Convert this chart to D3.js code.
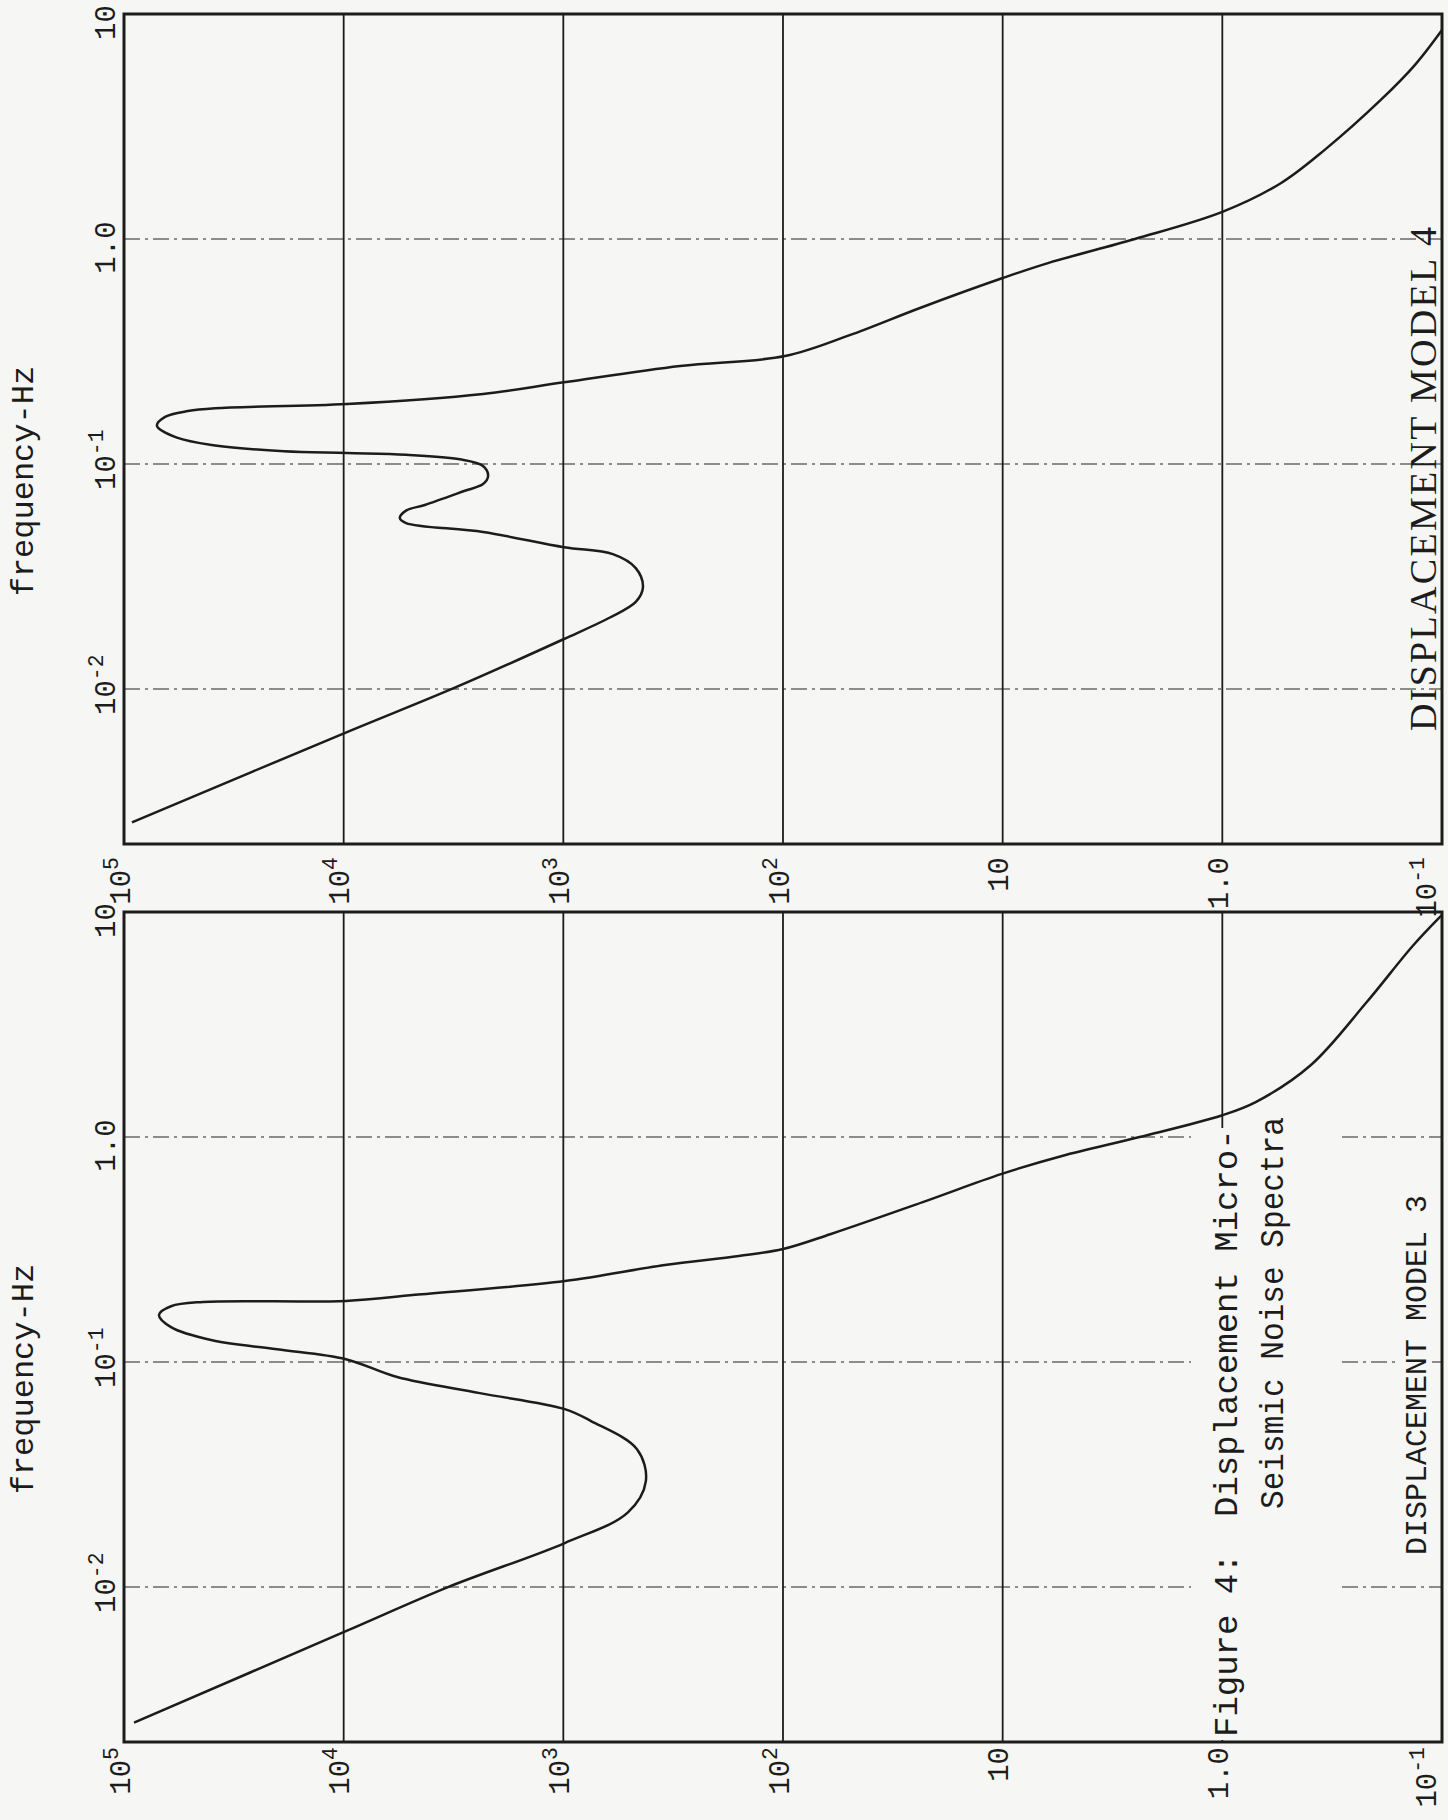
<!DOCTYPE html>
<html>
<head>
  <meta charset="utf-8">
  <title>Displacement Micro-Seismic Noise Spectra</title>
  <style>
    body { margin: 0; background: #f6f6f4; }
    svg { display: block; }
  </style>
</head>
<body>
  <svg id="chart"></svg>

  <script src="https://d3js.org/d3.v7.min.js"></script>
  <script>
    // Displacement model 4 (upper panel): frequency in Hz, displacement amplitude
    const freq4 = [0.00256, 0.00644, 0.0102, 0.0167, 0.0207, 0.0244, 0.0284, 0.0345, 0.0398, 0.0427,
                   0.0499, 0.0547, 0.0575, 0.0621, 0.0658, 0.0759, 0.0815, 0.0885, 0.098, 0.105,
                   0.110, 0.112, 0.114, 0.121, 0.131, 0.148, 0.162, 0.172, 0.177, 0.185,
                   0.205, 0.231, 0.273, 0.302, 0.374, 0.494, 0.671, 0.782, 1.0, 1.32,
                   1.77, 2.49, 4.15, 5.93, 8.49];
    const disp4 = [92000, 9660, 3080, 993, 620, 468, 434, 468, 595, 993,
                   2320, 5200, 5550, 5200, 4270, 2830, 2320, 2200, 2320, 2960,
                   5200, 9660, 18700, 38500, 57400, 70800, 65000, 51200, 38500, 9660,
                   2320, 993, 294, 98, 49.7, 23.8, 10, 6.22, 2.5, 1.0,
                   0.542, 0.342, 0.19, 0.133, 0.1];

    // Displacement model 3 (lower panel)
    const freq3 = [0.0025, 0.00637, 0.01, 0.0157, 0.0215, 0.0296, 0.041, 0.0547, 0.0618, 0.0728,
                   0.0858, 0.103, 0.114, 0.125, 0.143, 0.162, 0.177, 0.185, 0.187, 0.199,
                   0.229, 0.27, 0.296, 0.318, 0.371, 0.514, 0.686, 0.824, 1.0, 1.25,
                   1.43, 2.09, 3.98, 7.06, 9.7];
    const disp3 = [90000, 9770, 3350, 985, 508, 421, 462, 748, 985, 2400,
                   5710, 9770, 20100, 39700, 61100, 69300, 61100, 43700, 9770, 4730,
                   985, 345, 159, 100, 60.5, 23.1, 10.1, 5.37, 2.38, 1.0,
                   0.705, 0.395, 0.22, 0.136, 0.1];

    // ticks and their labels ([base, exponent])
    const freqTicks = [10, 1, 0.1, 0.01];
    const freqLabels = [["10", ""], ["1.0", ""], ["10", "-1"], ["10", "-2"]];
    const dispTicks = [1e5, 1e4, 1e3, 1e2, 10, 1, 0.1];
    const dispLabels = [["10", "5"], ["10", "4"], ["10", "3"], ["10", "2"], ["10", ""], ["1.0", ""], ["10", "-1"]];

    const paper = "#f6f6f4";
    const ink = "#1c1c1c";
    const mono = "'Liberation Mono', 'DejaVu Sans Mono', monospace";
    const serif = "'Liberation Serif', 'DejaVu Serif', serif";
    const fs = 29;

    // the page is printed sideways: each panel is drawn upright, then turned -90deg
    // W = frequency extent (page vertical), H = displacement extent (page horizontal)
    const W = 830, H = 1318;
    const fMin = 0.00205;

    const xF = d3.scaleLog().domain([fMin, 10]).range([0, W]);
    const yD = d3.scaleLog().domain([1e5, 0.1]).range([0, H]);

    const svg = d3.select("#chart")
      .attr("width", 1448)
      .attr("height", 1820);

    svg.append("rect")
      .attr("width", 1448)
      .attr("height", 1820)
      .attr("fill", paper);

    function label(sel, ticks, labels) {
      sel.each(function(d) {
        const [base, exp] = labels[ticks.indexOf(d)];
        const t = d3.select(this).text(null);
        t.append("tspan").text(base);
        if (exp) {
          t.append("tspan")
            .attr("dy", -fs * 0.42)
            .attr("font-size", fs * 0.74)
            .text(exp);
        }
      });
    }

    function drawPanel(left, bottom, freq, disp, dispPad, masks) {
      const g = svg.append("g")
        .attr("transform", `translate(${left},${bottom}) rotate(-90)`);

      // frequency grid (dashed)
      g.selectAll(".fgrid")
        .data(freqTicks.filter(f => f < 10))
        .enter().append("line")
        .attr("x1", d => xF(d)).attr("x2", d => xF(d))
        .attr("y1", 0).attr("y2", H)
        .attr("stroke", "#8c8c8c")
        .attr("stroke-width", 2)
        .attr("stroke-dasharray", "16 5 3 5");

      // displacement grid (solid)
      g.selectAll(".dgrid")
        .data(dispTicks.slice(1, -1))
        .enter().append("line")
        .attr("x1", 0).attr("x2", W)
        .attr("y1", d => yD(d)).attr("y2", d => yD(d))
        .attr("stroke", ink)
        .attr("stroke-width", 1.8);

      // blank areas where the typed text sits over the grid
      masks.forEach(m => {
        g.append("rect")
          .attr("x", m[0]).attr("y", m[1])
          .attr("width", m[2]).attr("height", m[3])
          .attr("fill", paper);
      });

      g.append("rect")
        .attr("width", W)
        .attr("height", H)
        .attr("fill", "none")
        .attr("stroke", ink)
        .attr("stroke-width", 3);

      const line = d3.line()
        .x(d => xF(d[0]))
        .y(d => yD(d[1]))
        .curve(d3.curveCatmullRom.alpha(0.5));

      g.append("path")
        .datum(d3.zip(freq, disp))
        .attr("d", line)
        .attr("fill", "none")
        .attr("stroke", ink)
        .attr("stroke-width", 2.5)
        .attr("stroke-linejoin", "round");

      // frequency labels (left of the page)
      const fAxis = g.append("g")
        .call(d3.axisTop(xF).tickValues(freqTicks).tickSize(0).tickPadding(9));
      fAxis.select(".domain").remove();
      fAxis.attr("font-family", mono).attr("font-size", fs);
      const fText = fAxis.selectAll(".tick text")
        .attr("fill", ink)
        .attr("text-anchor", "start")
        .attr("x", d => -freqLabels[freqTicks.indexOf(d)][0].length * 0.3 * fs - 9);
      label(fText, freqTicks, freqLabels);

      // displacement labels (below the panel)
      const dAxis = g.append("g")
        .call(d3.axisLeft(yD).tickValues(dispTicks).tickSize(0).tickPadding(dispPad));
      dAxis.select(".domain").remove();
      dAxis.attr("font-family", mono).attr("font-size", fs);
      const dText = dAxis.selectAll(".tick text")
        .attr("fill", ink)
        .attr("y", d => d === 0.1 ? -16 : -4);
      label(dText, dispTicks, dispLabels);

      g.append("text")
        .attr("x", xF(0.1) - 17)
        .attr("y", -91)
        .attr("text-anchor", "middle")
        .attr("font-family", mono)
        .attr("font-size", 32)
        .attr("fill", ink)
        .text("frequency-Hz");

      return g;
    }

    // upper panel
    const upper = drawPanel(124, 844, freq4, disp4, 13, []);
    upper.append("text")
      .attr("x", 113)
      .attr("y", 1312)
      .attr("font-family", serif)
      .attr("font-size", 38)
      .attr("textLength", 504)
      .attr("lengthAdjust", "spacing")
      .attr("fill", ink)
      .text("DISPLACEMENT MODEL 4");

    // lower panel
    const lower = drawPanel(124, 1742, freq3, disp3, 5, [[2, 1067, 612, 148], [183, 1276, 372, 32]]);

    const cap = lower.append("g")
      .attr("font-family", mono)
      .attr("font-size", 34)
      .attr("fill", ink);
    cap.append("text").attr("x", 5).attr("y", 1113).text("Figure 4:");
    cap.append("text").attr("x", 225).attr("y", 1113).text("Displacement Micro-");
    cap.append("text").attr("x", 233).attr("y", 1159)
      .attr("textLength", 392)
      .attr("lengthAdjust", "spacingAndGlyphs")
      .text("Seismic Noise Spectra");

    lower.append("text")
      .attr("x", 187)
      .attr("y", 1302)
      .attr("font-family", mono)
      .attr("font-size", 30)
      .attr("fill", ink)
      .text("DISPLACEMENT MODEL 3");
  </script>
</body>
</html>
